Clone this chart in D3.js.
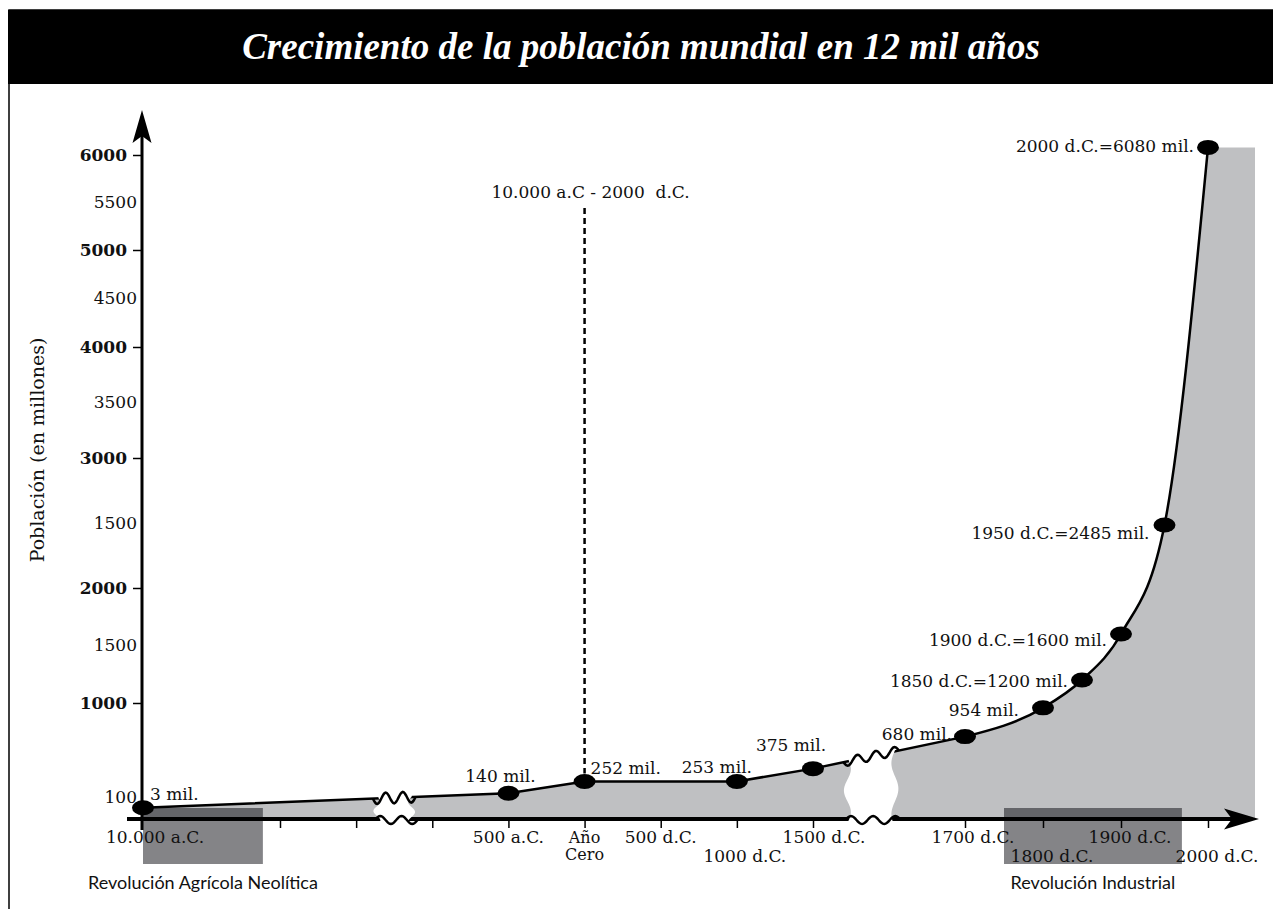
<html>
<head>
<meta charset='utf-8'>
<script src='https://d3js.org/d3.v7.min.js'></script>
<style>
    body {
        margin: 0;
        background: #fff;
    }

    svg {
        display: block;
    }

    .lbl {
        font-family: 'DejaVu Serif', serif;
        font-size: 17px;
        fill: #111;
    }
</style>
</head>

<body>
<svg id='chart' width='1273' height='909'></svg>

<script>
    // years (negative = a.C.) and world population, millions
    const years = [-10000, -500, 0, 1000, 1500, 1700, 1800, 1850, 1900, 1950, 2000];
    const population = [3, 140, 252, 253, 375, 680, 954, 1200, 1600, 2485, 6080];
    const pointLabels = ['3 mil.', '140 mil.', '252 mil.', '253 mil.', '375 mil.', '680 mil.', '954 mil.',
        '1850 d.C.=1200 mil.', '1900 d.C.=1600 mil.', '1950 d.C.=2485 mil.', '2000 d.C.=6080 mil.'];

    const yTickValues = [6000, 5500, 5000, 4500, 4000, 3500, 3000, 2500, 2000, 1500, 1000, 100];
    const yTickLabels = ['6000', '5500', '5000', '4500', '4000', '3500', '3000', '1500', '2000', '1500', '1000', '100'];

    const xTickYears = [-2000, -1500, -1000, -500, 0, 500, 1000, 1500, 1700, 1800, 1900, 2000];
    const xLabelYears = [-10000, -500, 0, 500, 1000, 1500, 1700, 1800, 1900, 2000];
    const xLabelTexts = ['10.000 a.C.', '500 a.C.', 'Año|Cero', '500 d.C.', '1000 d.C.', '1500 d.C.',
        '1700 d.C.', '1800 d.C.', '1900 d.C.', '2000 d.C.'];

    const breakYears = [[-1390, -1110], [1540, 1613]];
    const eraYears = [[-10000, -3000], [1750, 1970]];
    const eraNames = ['Revolución Agrícola Neolítica', 'Revolución Industrial'];

    // layout
    const axisX = 142, axisY = 819;
    const labelAnchor = ['start', 'middle', 'start', 'middle', 'middle', 'end', 'end', 'end', 'end', 'end', 'end'];
    const labelDx = [7, -8, 6, -20, -22, -13, -24, -14, -14, -15, -14];
    const labelDy = [-8, -11, -8, -8, -18, 3, 8, 7, 12, 14, 5];
    const xLabelRow = [0, 0, 0, 0, 1, 0, 0, 1, 0, 1];
    const xLabelDx = [12, 0, 0, 0, 8, 11, 8, 9, 9, 9];

    var svg = d3.select('#chart');

    // broken scales: piecewise linear
    var x = d3.scaleLinear()
        .domain([-10000, -2000, 1500, 1700, 1800, 1900, 2000, 2055])
        .range([143, 280, 813, 965, 1043, 1121, 1208, 1255]);

    var y = d3.scaleLinear()
        .domain([0, 1000, 2000, 3000, 4000, 5000, 6000])
        .range([808, 703, 588, 458, 347, 250, 155]);

    // frame + title
    svg.append('rect')
        .attr('x', 9).attr('y', 10).attr('width', 1300).attr('height', 960)
        .attr('fill', 'none').attr('stroke', '#000').attr('stroke-width', 1.5);
    svg.append('rect')
        .attr('x', 8).attr('y', 10).attr('width', 1270).attr('height', 74)
        .attr('fill', '#000');
    svg.append('text')
        .attr('x', 641).attr('y', 59)
        .attr('text-anchor', 'middle')
        .attr('font-family', 'Liberation Serif, serif')
        .attr('font-style', 'italic').attr('font-weight', 'bold')
        .attr('font-size', 37).attr('fill', '#fff')
        .text('Crecimiento de la población mundial en 12 mil años');

    var pts = years.map(function(yr, i) {
        return [x(yr), y(population[i])];
    });
    var split = years.indexOf(1700);
    var last = pts[pts.length - 1];
    var xEnd = x(d3.max(x.domain()));

    var area = d3.area().x(d => d[0]).y0(axisY).y1(d => d[1]);
    var line = d3.line().x(d => d[0]).y(d => d[1]);

    var gray = '#bfc0c2';
    svg.append('path').attr('fill', gray)
        .attr('d', area.curve(d3.curveLinear)(pts.slice(0, split + 1)));
    svg.append('path').attr('fill', gray)
        .attr('d', area.curve(d3.curveMonotoneX)(pts.slice(split)));
    svg.append('path').attr('fill', gray)
        .attr('d', area.curve(d3.curveLinear)([last, [xEnd, last[1]]]));

    // era boxes
    eraYears.forEach(function(e, i) {
        svg.append('rect')
            .attr('x', x(e[0])).attr('y', 808)
            .attr('width', x(e[1]) - x(e[0])).attr('height', 56)
            .attr('fill', '#0a0a10').attr('fill-opacity', 0.5);
        svg.append('text')
            .attr('x', (x(e[0]) + x(e[1])) / 2).attr('y', 889)
            .attr('text-anchor', 'middle')
            .attr('font-family', 'Lato, sans-serif').attr('font-size', 18).attr('fill', '#111')
            .text(eraNames[i]);
    });

    // x axis
    svg.append('line')
        .attr('x1', axisX - 15).attr('x2', 1232)
        .attr('y1', axisY).attr('y2', axisY)
        .attr('stroke', '#000').attr('stroke-width', 4);
    svg.append('path')
        .attr('d', 'M1259,' + axisY + 'L1224,' + (axisY - 10.5) + 'L1232,' + axisY + 'L1224,' + (axisY + 10.5) + 'Z')
        .attr('fill', '#000');

    var xaxis = svg.append('g')
        .attr('transform', 'translate(0,' + axisY + ')')
        .call(d3.axisBottom(x).tickValues(xTickYears).tickFormat('').tickSize(9));
    xaxis.select('.domain').remove();
    xaxis.selectAll('.tick line').attr('stroke', '#000').attr('stroke-width', 1.5);

    xLabelYears.forEach(function(yr, i) {
        var parts = xLabelTexts[i].split('|');
        var t = svg.append('text').attr('class', 'lbl')
            .attr('text-anchor', 'middle')
            .attr('x', x(yr) + xLabelDx[i])
            .attr('y', xLabelRow[i] ? 862 : 843);
        if (parts.length > 1) t.style('font-size', '16px');
        parts.forEach(function(p, k) {
            t.append('tspan')
                .attr('x', x(yr) + xLabelDx[i])
                .attr('dy', k ? 17 : 0)
                .text(p);
        });
    });

    // population line
    svg.append('path').attr('fill', 'none').attr('stroke', '#000').attr('stroke-width', 2.5)
        .attr('d', line.curve(d3.curveLinear)(pts.slice(0, split + 1)));
    svg.append('path').attr('fill', 'none').attr('stroke', '#000').attr('stroke-width', 2.5)
        .attr('d', line.curve(d3.curveMonotoneX)(pts.slice(split)));

    // axis breaks
    function lineYAt(px) {
        for (var i = 0; i < pts.length - 1; i++) {
            if (px >= pts[i][0] && px <= pts[i + 1][0]) {
                var t = (px - pts[i][0]) / (pts[i + 1][0] - pts[i][0]);
                return pts[i][1] + t * (pts[i + 1][1] - pts[i][1]);
            }
        }
        return pts[0][1];
    }

    breakYears.forEach(function(b, bi) {
        var x0 = x(b[0]), x1 = x(b[1]);
        var yA = lineYAt(x0), yB = lineYAt(x1);
        var periods = bi ? 3 : 2.5;
        var amp = bi ? 4.5 : 5.5;
        var n = 40;

        var top = d3.range(n + 1).map(function(k) {
            var t = k / n;
            return [x0 + t * (x1 - x0), yA + t * (yB - yA) + amp * Math.sin(t * Math.PI * 2 * periods)];
        });
        var bottom = d3.range(n + 1).map(function(k) {
            var t = k / n;
            return [x0 + 2 + t * (x1 - x0), axisY + 1 - 4 * Math.sin(t * Math.PI * 2 * (bi ? 2.5 : 2))];
        });

        var yBot = axisY + 8;
        var right = d3.range(n + 1).map(function(k) {
            var t = k / n;
            return [x1 - 4 - 3.5 * Math.sin(t * Math.PI * 3), yB + t * (yBot - yB)];
        });
        var left = d3.range(n + 1).map(function(k) {
            var t = 1 - k / n;
            return [x0 + 4 + 3.5 * Math.sin(t * Math.PI * 3 + 0.6), yA + t * (yBot - yA)];
        });
        var blob = [[x0 + 2, yA - 12], [x1 - 2, yB - 12]].concat(right, left);

        svg.append('path').attr('fill', '#fff')
            .attr('d', d3.line().curve(d3.curveLinearClosed)(blob));
        svg.append('path').attr('fill', 'none').attr('stroke', '#000').attr('stroke-width', 2.5)
            .attr('d', d3.line()(top));
        svg.append('path').attr('fill', 'none').attr('stroke', '#000').attr('stroke-width', 2.5)
            .attr('d', d3.line()(bottom));
    });

    // "Año cero" marker
    svg.append('line')
        .attr('x1', x(0)).attr('x2', x(0))
        .attr('y1', 208).attr('y2', y(252) - 8)
        .attr('stroke', '#000').attr('stroke-width', 2.5)
        .attr('stroke-dasharray', '6,4');
    svg.append('text').attr('class', 'lbl')
        .attr('x', x(0) + 6).attr('y', 198)
        .attr('text-anchor', 'middle')
        .style('white-space', 'pre')
        .text('10.000 a.C - 2000  d.C.');

    // points + labels
    svg.selectAll('.pt').data(pts).enter().append('ellipse')
        .attr('class', 'pt')
        .attr('cx', d => d[0]).attr('cy', d => d[1])
        .attr('rx', 11).attr('ry', 7.5)
        .attr('fill', '#000');

    svg.selectAll('.plbl').data(pts).enter().append('text')
        .attr('class', 'lbl plbl')
        .attr('x', (d, i) => d[0] + labelDx[i])
        .attr('y', (d, i) => d[1] + labelDy[i])
        .attr('text-anchor', (d, i) => labelAnchor[i])
        .text((d, i) => pointLabels[i]);

    // y axis
    var isMajor = d => d % 1000 === 0;
    svg.append('line')
        .attr('x1', axisX).attr('x2', axisX)
        .attr('y1', 830).attr('y2', 136)
        .attr('stroke', '#000').attr('stroke-width', 3);
    svg.append('path')
        .attr('d', 'M' + axisX + ',110L' + (axisX + 9.5) + ',143L' + axisX + ',136L' + (axisX - 9.5) + ',143Z')
        .attr('fill', '#000');

    var yaxis = svg.append('g')
        .attr('transform', 'translate(' + axisX + ',0)')
        .call(d3.axisLeft(y).tickValues(yTickValues).tickFormat((d, i) => yTickLabels[i]).tickSize(9));
    yaxis.select('.domain').remove();
    yaxis.attr('font-family', 'DejaVu Serif, serif').attr('font-size', 17);
    yaxis.selectAll('.tick line')
        .attr('stroke', '#000').attr('stroke-width', 1.5)
        .attr('display', d => isMajor(d) ? null : 'none');
    yaxis.selectAll('.tick text')
        .attr('fill', '#111')
        .attr('font-weight', d => isMajor(d) ? 'bold' : 'normal')
        .attr('x', d => isMajor(d) ? -15 : -5);

    svg.append('text').attr('class', 'lbl')
        .attr('transform', 'translate(44,450)rotate(-90)')
        .attr('text-anchor', 'middle')
        .style('font-size', '19px')
        .text('Población (en millones)');
</script>
</body>

</html>
